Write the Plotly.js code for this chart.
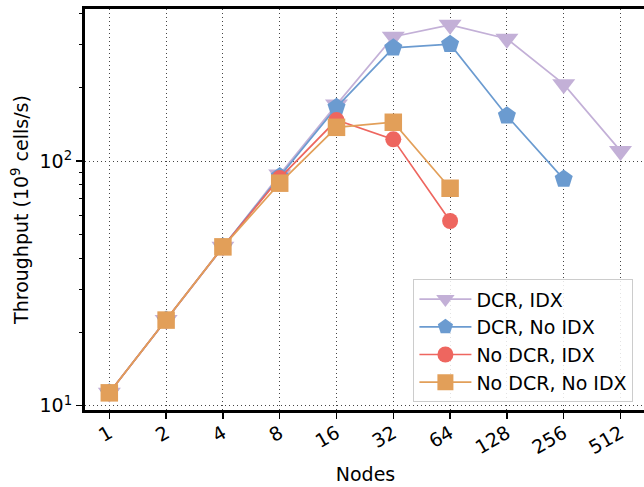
<!DOCTYPE html>
<html>
<head>
<meta charset="utf-8">
<script src="https://cdn.plot.ly/plotly-3.0.1.min.js"></script>
<style>
html,body{margin:0;padding:0;overflow:hidden;background:#fff;}
#chart{width:650px;height:487px;}
</style>
</head>
<body>
<div id="chart"></div>
<script>
const nodes = ['1','2','4','8','16','32','64','128','256','512'];
const dcrIdx = [11.3, 22.4, 44.6, 88, 170, 322, 360, 316, 206, 110];
const dcrNoIdx = [11.3, 22.4, 44.6, 86.5, 166, 290, 300, 153, 84.4];
const noDcrIdx = [11.3, 22.4, 44.6, 85.2, 147, 122.6, 56.9];
const noDcrNoIdx = [11.3, 22.4, 44.6, 81.2, 137.3, 144, 77.4];

const seriesNames = ['DCR, IDX', 'DCR, No IDX', 'No DCR, IDX', 'No DCR, No IDX'];
const seriesData = [dcrIdx, dcrNoIdx, noDcrIdx, noDcrNoIdx];
const colors = ['#c3b0d7', '#6b9bd0', '#ee665f', '#e29f59'];
const symbols = ['triangle-down', 'pentagon', 'circle', 'square'];
const sizes = [20, 19, 16, 17.5];

const yMajor = [10, 100];
const yMajorText = ['10<sup>1</sup>', '10<sup>2</sup>'];
const yMinor = [20,30,40,50,60,70,80,90,200,300,400];

const traces = seriesData.map((vals, i) => ({
  type: 'scatter',
  mode: 'lines+markers',
  name: seriesNames[i],
  legendgroup: 'g' + i,
  x: nodes.slice(0, vals.length),
  y: vals,
  line: {color: colors[i], width: 1.7},
  marker: {symbol: symbols[i], size: sizes[i], color: colors[i], line: {width: 0}}
}));

const font = {family: 'DejaVu Sans, sans-serif', size: 19, color: '#000'};

const layout = {
  width: 650, height: 487,
  margin: {l: 85, r: 4, t: 9, b: 77},
  paper_bgcolor: '#fff', plot_bgcolor: '#fff',
  font: font,
  showlegend: true,
  legend: {
    x: 0.5854, y: 0.326, xanchor: 'left', yanchor: 'top',
    bgcolor: 'rgba(255,255,255,0.85)', bordercolor: '#cccccc', borderwidth: 1,
    font: {family: 'DejaVu Sans, sans-serif', size: 19, color: '#000'},
    tracegroupgap: 1.5, traceorder: 'normal', itemwidth: 52
  },
  xaxis: {
    type: 'category',
    categoryorder: 'array', categoryarray: nodes,
    range: [-0.428, 9.449],
    showline: true, linecolor: '#000', linewidth: 3, mirror: true,
    ticks: 'outside', ticklen: 6, tickwidth: 1.3, tickcolor: '#000',
    tickangle: -30, ticklabelstandoff: -4,
    showgrid: true, gridcolor: '#444', griddash: '1px,3px', gridwidth: 1,
    zeroline: false,
    title: {text: 'Nodes', font: font, standoff: 11},
    tickfont: font
  },
  yaxis: {
    type: 'log',
    range: [0.983, 2.621],
    showline: true, linecolor: '#000', linewidth: 3, mirror: true,
    tickmode: 'array', tickvals: yMajor, ticktext: yMajorText,
    ticks: 'outside', ticklen: 6, tickwidth: 1.3, tickcolor: '#000',
    minor: {tickmode: 'array', tickvals: yMinor, ticks: 'outside', ticklen: 3.5, tickwidth: 1, tickcolor: '#000', showgrid: false},
    showgrid: true, gridcolor: '#444', griddash: '1px,3px', gridwidth: 1,
    zeroline: false,
    title: {text: 'Throughput (10<sup>9</sup> cells/s)', font: font, standoff: 6},
    tickfont: font
  }
};

Plotly.newPlot('chart', traces, layout, {displayModeBar: false, staticPlot: true});
</script>
</body>
</html>
